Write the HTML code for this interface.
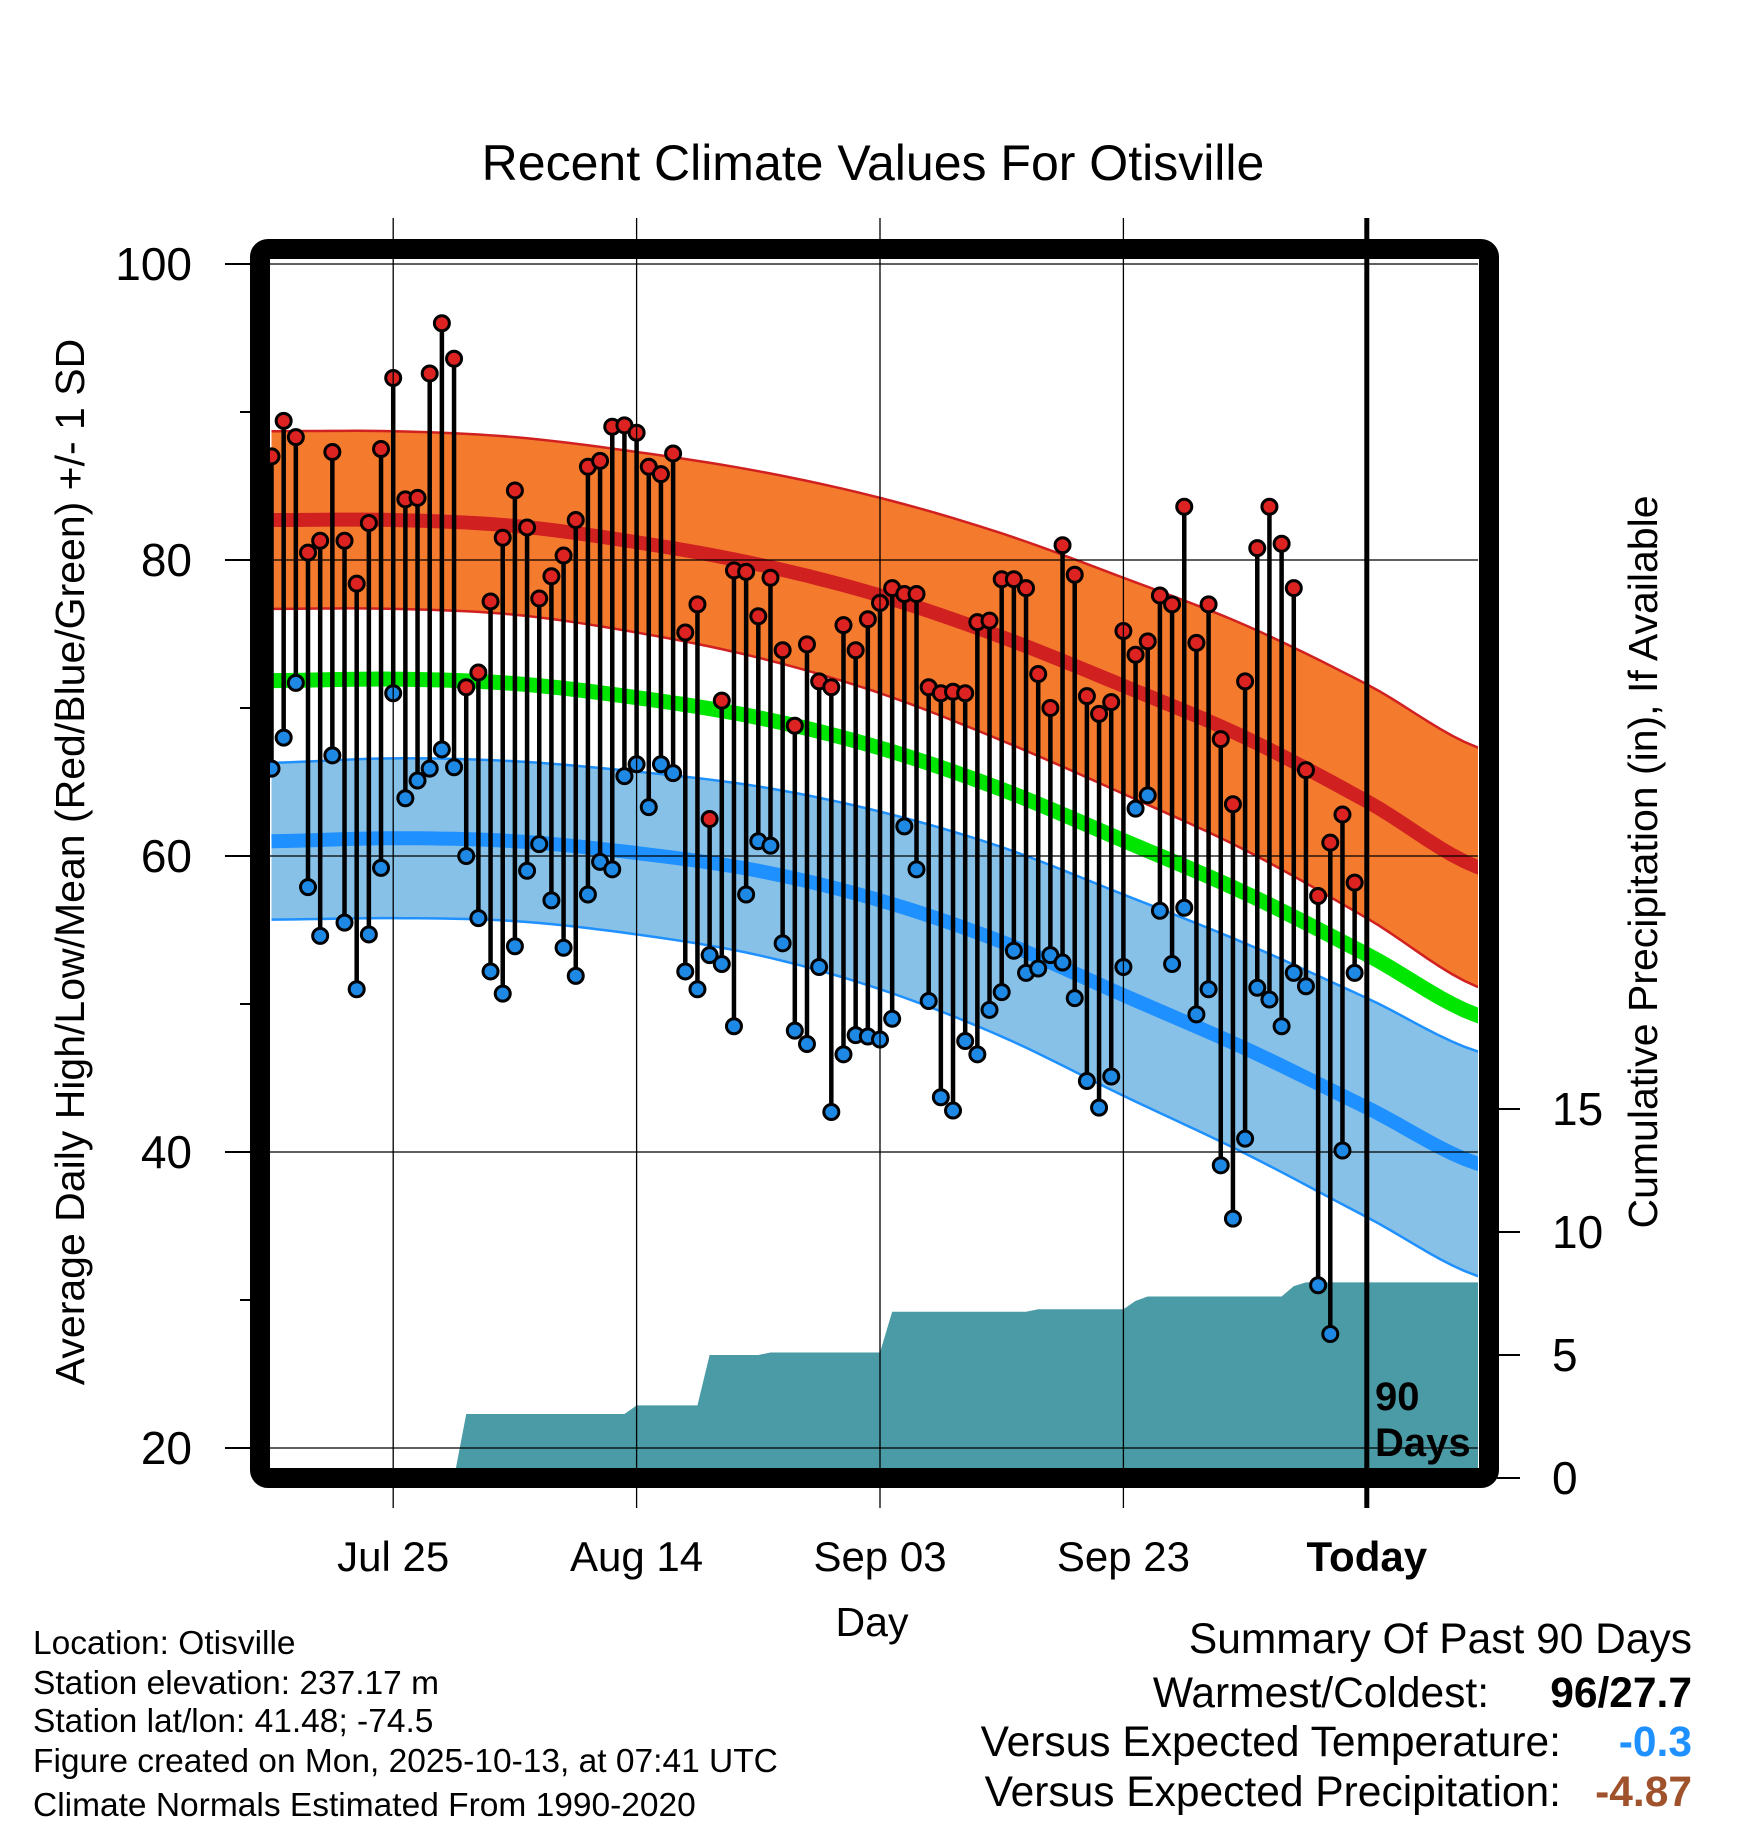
<!DOCTYPE html>
<html><head><meta charset="utf-8"><style>
html,body{margin:0;padding:0;background:#fff;}
svg{display:block;font-family:"Liberation Sans",sans-serif;}
</style></head><body>
<svg id="chart" width="1748" height="1828" viewBox="0 0 1748 1828" xmlns="http://www.w3.org/2000/svg">
<text x="873" y="180" font-size="50" text-anchor="middle">Recent Climate Values For Otisville</text>
<g id="plot"></g>
<text transform="translate(84,862) rotate(-90)" font-size="41" text-anchor="middle">Average Daily High/Low/Mean (Red/Blue/Green) +/- 1 SD</text>
<text transform="translate(1657,862) rotate(-90)" font-size="41" text-anchor="middle">Cumulative Precipitation (in), If Available</text>
<text x="872" y="1636" font-size="41" text-anchor="middle">Day</text>
<g font-size="33.5">
<text x="33" y="1654">Location: Otisville</text>
<text x="33" y="1694">Station elevation: 237.17 m</text>
<text x="33" y="1732">Station lat/lon: 41.48; -74.5</text>
<text x="33" y="1772">Figure created on Mon, 2025-10-13, at 07:41 UTC</text>
<text x="33" y="1816">Climate Normals Estimated From 1990-2020</text>
</g>
<g font-size="42.5" text-anchor="end">
<text x="1692" y="1653">Summary Of Past 90 Days</text>
<text x="1489" y="1707">Warmest/Coldest:</text>
<text x="1692" y="1707" font-weight="bold">96/27.7</text>
<text x="1561" y="1756">Versus Expected Temperature:</text>
<text x="1692" y="1756" font-weight="bold" fill="#1e90ff">-0.3</text>
<text x="1561" y="1806">Versus Expected Precipitation:</text>
<text x="1692" y="1806" font-weight="bold" fill="#a0522d">-4.87</text>
</g>
</svg>
<script>
const highs=[87,89.4,88.3,80.5,81.3,87.3,81.3,78.4,82.5,87.5,92.3,84.1,84.2,92.6,96,93.6,71.4,72.4,77.2,81.5,84.7,82.2,77.4,78.9,80.3,82.7,86.3,86.7,89,89.1,88.6,86.3,85.8,87.2,75.1,77,62.5,70.5,79.3,79.2,76.2,78.8,73.9,68.8,74.3,71.8,71.4,75.6,73.9,76,77.1,78.1,77.7,77.7,71.4,71,71.1,71,75.8,75.9,78.7,78.7,78.1,72.3,70,81,79,70.8,69.6,70.4,75.2,73.6,74.5,77.6,77,83.6,74.4,77,67.9,63.5,71.8,80.8,83.6,81.1,78.1,65.8,57.3,60.9,62.8,58.2];
const lows=[65.9,68,71.7,57.9,54.6,66.8,55.5,51,54.7,59.2,71,63.9,65.1,65.9,67.2,66,60,55.8,52.2,50.7,53.9,59,60.8,57,53.8,51.9,57.4,59.6,59.1,65.4,66.2,63.3,66.2,65.6,52.2,51,53.3,52.7,48.5,57.4,61,60.7,54.1,48.2,47.3,52.5,42.7,46.6,47.9,47.8,47.6,49,62,59.1,50.2,43.7,42.8,47.5,46.6,49.6,50.8,53.6,52.1,52.4,53.3,52.8,50.4,44.8,43,45.1,52.5,63.2,64.1,56.3,52.7,56.5,49.3,51,39.1,35.5,40.9,51.1,50.3,48.5,52.1,51.2,31,27.7,40.1,52.1];
const precip=[0,0,0,0,0,0,0,0,0,0,0,0,0,0,0,0,2.6,2.6,2.6,2.6,2.6,2.6,2.6,2.6,2.6,2.6,2.6,2.6,2.6,2.6,2.95,2.95,2.95,2.95,2.95,2.95,5.0,5.0,5.0,5.0,5.0,5.1,5.1,5.1,5.1,5.1,5.1,5.1,5.1,5.1,5.1,6.76,6.76,6.76,6.76,6.76,6.76,6.76,6.76,6.76,6.76,6.76,6.76,6.86,6.86,6.86,6.86,6.86,6.86,6.86,6.86,7.2,7.38,7.38,7.38,7.38,7.38,7.38,7.38,7.38,7.38,7.38,7.38,7.38,7.8,7.95,7.95,7.95,7.95];
const normDays=[0,10,20,30,40,50,60,70,80,90,100];
const normHigh=[82.7,82.7,82.3,81.2,79.7,77.6,74.8,71.5,68,63.7,59];
const sdHigh=[6,6,6,6.1,6.3,6.6,7,7.3,7.6,7.9,8.1];
const normLow=[61,61.2,61,60.2,59,57,54.2,50.6,47,43,39];
const sdLow=[5.3,5.4,5.4,5.5,5.7,6,6.4,6.8,7.1,7.4,7.6];
const yTicks=[100,80,60,40,20];
const yMinor=[90,70,50,30];
const pTicks=[0,5,10,15];
const dateLabels=["Jul 25","Aug 14","Sep 03","Sep 23","Today"];
const dateDays=[10,30,50,70,90];

const NS="http://www.w3.org/2000/svg";
const X0=271.5,DX=12.17,IL=270,IR=1478,IT=259,IB=1468;
const x=d=>X0+d*DX;
const y=v=>264+(100-v)*14.8;
const py=p=>1478-p*24.6;
const plot=document.getElementById('plot');
function mk(tag,attrs,parent){const e=document.createElementNS(NS,tag);for(const k in attrs)e.setAttribute(k,attrs[k]);(parent||plot).appendChild(e);return e;}
const defs=mk('defs',{});
const cp=mk('clipPath',{id:'clip'},defs);
mk('rect',{x:IL,y:IT,width:IR-IL,height:IB-IT},cp);
const g=mk('g',{'clip-path':'url(#clip)'});
function interp(arr,d){const k=Math.min(9,Math.floor(d/10));const t=(d-normDays[k])/10;
 // Catmull-Rom smoothing
 const p0=arr[Math.max(0,k-1)],p1=arr[k],p2=arr[k+1],p3=arr[Math.min(10,k+2)];
 return 0.5*((2*p1)+(-p0+p2)*t+(2*p0-5*p1+4*p2-p3)*t*t+(-p0+3*p1-3*p2+p3)*t*t*t);}
function curve(arr,off,sign){const pts=[];for(let d=0;d<=100;d+=1){const v=interp(arr,d);const s=off?interp(off,d):0;pts.push([x(d),y(v+sign*s)]);}return pts;}
function band(m,s,fill,edge,name){const up=curve(m,s,1),lo=curve(m,s,-1);
 const p=mk('path',{d:'M'+up.map(q=>q.join(',')).join('L')+'L'+lo.slice().reverse().map(q=>q.join(',')).join('L')+'Z',fill:fill},g);
 
 [up,lo].forEach(c=>{const l=mk('polyline',{points:c.map(q=>q.join(',')).join(' '),fill:'none',stroke:edge,'stroke-width':2.5},g);});}
function line(m,col,w,name){const c=curve(m,null,0);const l=mk('polyline',{points:c.map(q=>q.join(',')).join(' '),fill:'none',stroke:col,'stroke-width':w},g);}
band(normHigh,sdHigh,'#f47a2e','#d02020','high-sd-band');
band(normLow,sdLow,'#87c1e8','#1e90ff','low-sd-band');
line(normHigh,'#d02020',14,'mean-high-line');
line(normLow,'#1e90ff',14,'mean-low-line');
line(normHigh.map((v,i)=>(v+normLow[i])/2),'#00e600',15,'mean-line');
let pd='M'+x(0)+','+py(0);precip.forEach((p,i)=>{pd+='L'+x(i)+','+py(p);});pd+='L'+IR+','+py(precip[precip.length-1])+'L'+IR+','+IB+'L'+IL+','+IB+'Z';
const pa=mk('path',{d:pd,fill:'#4a9ba5'},g);


yTicks.forEach(v=>{const l=mk('line',{x1:IL,x2:IR,y1:y(v),y2:y(v),stroke:'#000','stroke-width':1.3},g);});
dateDays.forEach((d,i)=>{const l=mk('line',{x1:x(d),x2:x(d),y1:218,y2:1508,stroke:'#000','stroke-width':i==4?5:1.3});
 const t=mk('text',{x:x(d),y:1571,'font-size':42,'text-anchor':'middle','font-weight':i==4?'bold':'normal'});t.textContent=dateLabels[i];});
highs.forEach((h,i)=>{const s=mk('line',{x1:x(i),x2:x(i),y1:y(h),y2:y(lows[i]),stroke:'#000','stroke-width':4.5},g);});
highs.forEach((h,i)=>{const c1=mk('circle',{cx:x(i),cy:y(h),r:7.5,fill:'#dd2222',stroke:'#000','stroke-width':3},g);
 const c2=mk('circle',{cx:x(i),cy:y(lows[i]),r:7.5,fill:'#1e88e5',stroke:'#000','stroke-width':3},g);});
const t1=mk('text',{x:1375,y:1410,'font-size':40,'font-weight':'bold'});t1.textContent='90';
const t2=mk('text',{x:1375,y:1456,'font-size':40,'font-weight':'bold'});t2.textContent='Days';
const fr=mk('rect',{x:260,y:249,width:1229,height:1229,rx:8,fill:'none',stroke:'#000','stroke-width':20});


yTicks.forEach(v=>{const l=mk('line',{x1:225,x2:252,y1:y(v),y2:y(v),stroke:'#000','stroke-width':2});
 const t=mk('text',{x:192,y:y(v)+16,'font-size':46,'text-anchor':'end'});t.textContent=v;});
yMinor.forEach(v=>{const l=mk('line',{x1:240,x2:252,y1:y(v),y2:y(v),stroke:'#000','stroke-width':2});});
pTicks.forEach(p=>{const l=mk('line',{x1:1497,x2:1520,y1:py(p),y2:py(p),stroke:'#000','stroke-width':2});
 const t=mk('text',{x:1552,y:py(p)+16,'font-size':46});t.textContent=p;});
</script>
</body></html>
